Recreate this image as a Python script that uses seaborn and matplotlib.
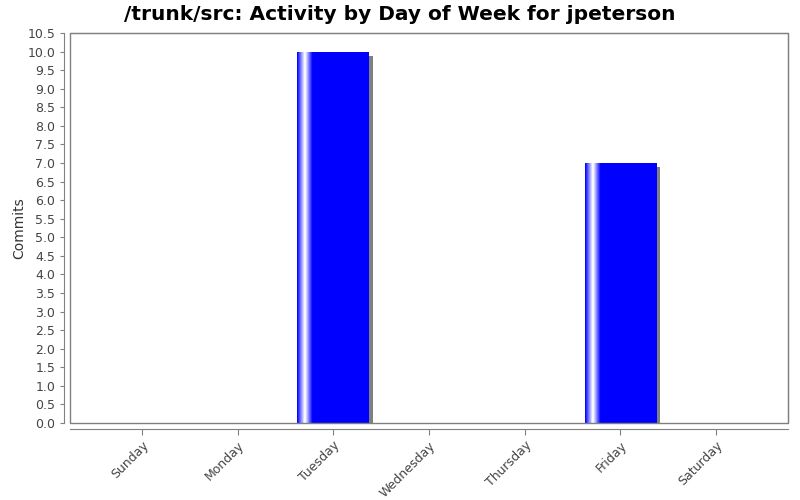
import numpy as np
import pandas as pd
import seaborn as sns
import matplotlib.pyplot as plt
from matplotlib.patches import Rectangle
from matplotlib.transforms import ScaledTranslation
from matplotlib.colors import LinearSegmentedColormap

days = ["Sunday", "Monday", "Tuesday", "Wednesday", "Thursday", "Friday", "Saturday"]
commits = [0, 0, 10, 0, 0, 7, 0]
yticks = np.arange(0, 10.51, 0.5)

sns.set_style("white")
plt.rcParams["font.family"] = ["DejaVu Sans"]

df = pd.DataFrame({"day": days, "commits": commits})

fig = plt.figure(figsize=(8, 5), dpi=100)
ax = fig.add_axes([0.0875, 0.154, 0.8975, 0.78])

sns.barplot(data=df, x="day", y="commits", color="#0000ff", saturation=1,
            width=0.75, ax=ax, zorder=3, edgecolor="none")

# shadow and gradient highlight like the original renderer
cmap = LinearSegmentedColormap.from_list("hl", ["#0000ff", "#ffffff", "#0000ff", "#0000ff"])
grad = np.concatenate([np.linspace(0, 1/3, 11), np.linspace(1/3, 2/3, 11), np.linspace(2/3, 1, 78)])
grad = grad.reshape(1, -1)
shift = ax.transData + ScaledTranslation(4/100, -4/100, fig.dpi_scale_trans)
for p in list(ax.patches):
    h = p.get_height()
    if h <= 0:
        continue
    x0 = p.get_x()
    w = p.get_width()
    sh = Rectangle((x0, 0), w, h, facecolor="#808080", edgecolor="none",
                   transform=shift, zorder=2)
    ax.add_patch(sh)
    sh.set_clip_box(ax.bbox)
    im = ax.imshow(grad, cmap=cmap, extent=[x0, x0 + w, 0, h], aspect="auto",
                   zorder=4, interpolation="bilinear", vmin=0, vmax=1)
    im.set_clip_path(p)

ax.set_xlim(-0.75, 6.75)
ax.set_ylim(0, 10.5)
ax.set_yticks(yticks)
ax.set_yticklabels([f"{v:.1f}" for v in yticks])
ax.set_xlabel("")
ax.set_ylabel("Commits", fontsize=10, color="#333333", labelpad=1)

for s in ["top", "right"]:
    ax.spines[s].set_visible(True)
    ax.spines[s].set_color("#808080")
for s in ["left", "bottom"]:
    ax.spines[s].set_visible(True)
    ax.spines[s].set_color("#808080")
    ax.spines[s].set_position(("outward", 4))
ax.add_patch(Rectangle((0, 0), 1, 1, transform=ax.transAxes, fill=False,
                       edgecolor="#808080", linewidth=1, zorder=5, clip_on=False))

ax.tick_params(axis="y", direction="out", length=3, color="#808080",
               labelsize=9, labelcolor="#444444", left=True)
ax.tick_params(axis="x", direction="out", length=4, color="#808080",
               labelsize=9, labelcolor="#444444", bottom=True)
plt.setp(ax.get_xticklabels(), rotation=45, ha="right", rotation_mode="anchor")

fig.suptitle("/trunk/src: Activity by Day of Week for jpeterson", fontsize=14.5,
             fontweight="bold", color="black", y=0.99)

fig.savefig("out.png", dpi=100)
